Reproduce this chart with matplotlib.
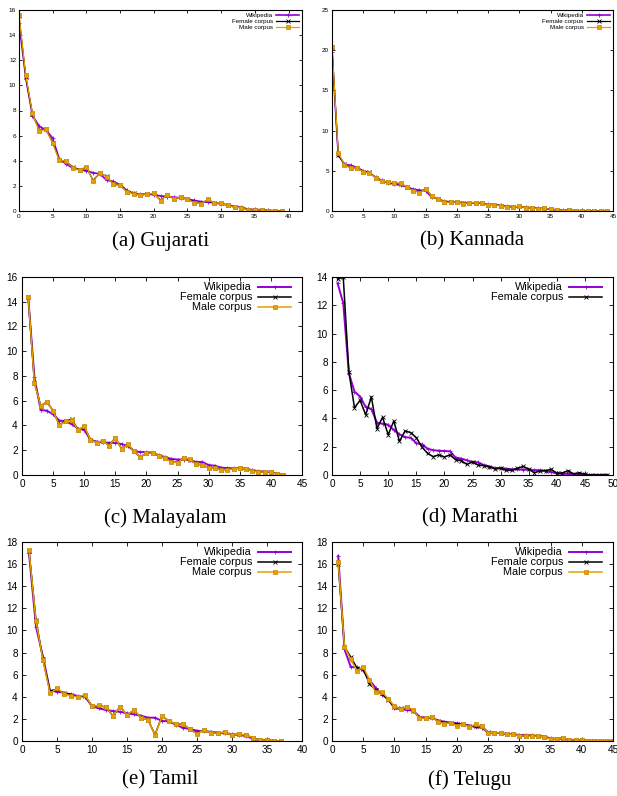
import matplotlib.pyplot as plt

# ---- data ----
guj_x = list(range(0, 40))
guj_wiki = [15.0, 10.6, 7.6, 6.75, 6.45, 5.8, 4.1, 3.75, 3.4, 3.3, 3.2, 3.05, 2.95, 2.45, 2.35, 2.1,
            1.65, 1.4, 1.35, 1.35, 1.3, 1.2, 1.15, 1.1, 1.05, 0.95, 0.85, 0.75, 0.7, 0.65, 0.55, 0.5,
            0.35, 0.3, 0.15, 0.12, 0.1, 0.05, 0.03, 0.0]
guj_female = [15.5, 10.7, 7.7, 6.45, 6.5, 5.45, 4.05, 3.95, 3.5, 3.3, 3.45, 2.45, 3.0, 2.75, 2.15, 2.05,
              1.55, 1.4, 1.25, 1.35, 1.4, 0.85, 1.3, 0.95, 1.1, 0.95, 0.68, 0.6, 0.9, 0.65, 0.6, 0.45,
              0.3, 0.27, 0.08, 0.1, 0.08, 0.03, 0.03, 0.0]
guj_male = [15.6, 10.8, 7.77, 6.37, 6.5, 5.38, 4.03, 3.98, 3.45, 3.26, 3.53, 2.39, 3.0, 2.73, 2.12, 2.04,
            1.54, 1.38, 1.25, 1.35, 1.41, 0.82, 1.3, 0.95, 1.11, 0.93, 0.66, 0.58, 0.93, 0.64, 0.61, 0.45,
            0.29, 0.27, 0.08, 0.1, 0.08, 0.03, 0.03, 0.0]

kan_x = list(range(0, 45))
kan_wiki = [19.8, 7.0, 5.8, 5.7, 5.4, 5.0, 4.7, 4.2, 3.8, 3.5, 3.35, 3.2, 3.0, 2.7, 2.6, 2.5, 1.7, 1.5,
            1.2, 1.15, 1.1, 1.05, 1.0, 1.0, 0.95, 0.85, 0.8, 0.7, 0.6, 0.55, 0.5, 0.45, 0.4, 0.35, 0.3,
            0.2, 0.15, 0.1, 0.08, 0.05, 0.03, 0.0, 0.0, 0.0, 0.0]
kan_female = [20.4, 7.0, 5.8, 5.35, 5.4, 4.9, 4.8, 4.15, 3.7, 3.6, 3.45, 3.4, 3.0, 2.55, 2.35, 2.75,
              1.85, 1.45, 1.1, 1.1, 1.15, 0.95, 1.05, 1.05, 0.95, 0.8, 0.8, 0.66, 0.5, 0.5, 0.58, 0.41,
              0.37, 0.29, 0.33, 0.2, 0.12, 0.04, 0.12, 0.04, 0.04, 0.0, 0.0, 0.0, 0.0]
kan_male = [20.44, 7.26, 5.76, 5.3, 5.39, 4.85, 4.73, 4.15, 3.69, 3.6, 3.52, 3.44, 2.98, 2.53, 2.28, 2.78,
            1.82, 1.45, 1.08, 1.08, 1.16, 0.91, 1.04, 1.04, 0.95, 0.79, 0.79, 0.66, 0.5, 0.5, 0.58, 0.41,
            0.37, 0.29, 0.33, 0.2, 0.12, 0.04, 0.12, 0.04, 0.04, 0.0, 0.0, 0.0, 0.0]

mal_x = list(range(1, 43))
mal_wiki = [14.3, 7.9, 5.25, 5.2, 4.9, 4.4, 4.35, 4.1, 3.75, 3.65, 2.85, 2.7, 2.65, 2.6, 2.6, 2.5, 2.35,
            1.95, 1.85, 1.85, 1.8, 1.6, 1.45, 1.3, 1.25, 1.25, 1.2, 1.05, 1.05, 0.8, 0.75, 0.6, 0.55,
            0.55, 0.55, 0.5, 0.4, 0.3, 0.28, 0.25, 0.1, 0.0]
mal_female = [14.4, 7.45, 5.6, 5.9, 5.2, 4.05, 4.35, 4.5, 3.65, 3.9, 2.85, 2.62, 2.75, 2.4, 3.0, 2.12,
              2.45, 1.92, 1.45, 1.77, 1.77, 1.56, 1.34, 1.1, 1.0, 1.4, 1.25, 0.88, 0.82, 0.56, 0.56, 0.42,
              0.45, 0.51, 0.56, 0.48, 0.35, 0.24, 0.24, 0.27, 0.05, 0.0]
mal_male = [14.39, 7.42, 5.59, 5.92, 5.19, 4.0, 4.33, 4.41, 3.63, 3.93, 2.85, 2.61, 2.77, 2.37, 3.01, 2.1,
            2.47, 1.91, 1.43, 1.77, 1.77, 1.56, 1.34, 1.08, 0.99, 1.4, 1.26, 0.86, 0.81, 0.56, 0.56, 0.4,
            0.43, 0.51, 0.56, 0.48, 0.35, 0.24, 0.24, 0.27, 0.05, 0.0]

mar_x = list(range(1, 50))
mar_wiki = [13.56, 12.15, 7.2, 5.9, 5.54, 4.81, 4.67, 3.7, 3.63, 3.56, 3.18, 2.88, 2.67, 2.64, 2.24, 2.17,
            1.86, 1.75, 1.72, 1.7, 1.67, 1.23, 1.16, 1.04, 0.92, 0.9, 0.7, 0.6, 0.5, 0.5, 0.45, 0.4, 0.4,
            0.38, 0.38, 0.35, 0.33, 0.3, 0.2, 0.12, 0.1, 0.08, 0.05, 0.04, 0.02, 0.0, 0.0, 0.0, 0.0]
mar_female = [13.84, 14.0, 7.31, 4.76, 5.28, 4.25, 5.52, 3.28, 4.08, 2.85, 3.82, 2.38, 3.11, 3.0, 2.64,
              1.98, 1.53, 1.3, 1.42, 1.27, 1.42, 1.08, 1.01, 0.75, 0.92, 0.7, 0.66, 0.59, 0.42, 0.47,
              0.33, 0.33, 0.47, 0.61, 0.42, 0.16, 0.28, 0.31, 0.4, 0.12, 0.14, 0.31, 0.07, 0.16, 0.05,
              0.0, 0.0, 0.0, 0.0]

tam_x = list(range(1, 38))
tam_wiki = [16.96, 10.33, 7.62, 4.55, 4.46, 4.37, 4.22, 4.07, 4.0, 3.16, 2.95, 2.8, 2.71, 2.65, 2.5, 2.41,
            2.29, 2.11, 2.11, 1.81, 1.78, 1.45, 1.2, 1.08, 0.93, 0.87, 0.84, 0.75, 0.69, 0.63, 0.54, 0.45,
            0.2, 0.06, 0.03, 0.0, 0.0]
tam_female = [17.2, 10.9, 7.35, 4.5, 4.7, 4.3, 4.2, 4.0, 4.1, 3.13, 3.2, 3.07, 2.26, 3.1, 2.35, 2.78,
              2.11, 1.93, 0.56, 2.26, 1.78, 1.54, 1.54, 1.05, 0.68, 1.02, 0.75, 0.69, 0.81, 0.51, 0.63,
              0.51, 0.3, 0.06, 0.09, 0.03, 0.0]
tam_male = [17.26, 10.84, 7.32, 4.31, 4.76, 4.28, 4.07, 4.01, 4.16, 3.13, 3.22, 3.07, 2.26, 3.1, 2.35, 2.8,
            2.11, 1.93, 0.54, 2.26, 1.78, 1.54, 1.54, 1.05, 0.66, 1.02, 0.75, 0.69, 0.81, 0.51, 0.63,
            0.51, 0.3, 0.06, 0.09, 0.03, 0.0]

tel_x = list(range(1, 46))
tel_wiki = [16.75, 8.3, 6.7, 6.65, 6.4, 5.5, 4.8, 4.2, 3.8, 2.95, 2.9, 2.8, 2.75, 2.2, 2.1, 2.1, 1.85,
            1.75, 1.65, 1.6, 1.5, 1.4, 1.25, 1.2, 0.75, 0.75, 0.7, 0.65, 0.6, 0.55, 0.55, 0.5, 0.45,
            0.4, 0.25, 0.2, 0.2, 0.1, 0.1, 0.05, 0.03, 0.03, 0.03, 0.02, 0.02]
tel_female = [16.0, 8.5, 7.6, 6.6, 6.5, 5.2, 4.6, 4.3, 3.7, 3.1, 2.95, 3.05, 2.75, 2.1, 2.05, 2.15, 1.8,
              1.6, 1.65, 1.5, 1.5, 1.35, 1.4, 1.35, 0.78, 0.75, 0.72, 0.63, 0.6, 0.48, 0.45, 0.42,
              0.45, 0.39, 0.18, 0.21, 0.28, 0.09, 0.09, 0.06, 0.03, 0.03, 0.03, 0.0, 0.0]
tel_male = [16.2, 8.52, 7.38, 6.36, 6.72, 5.51, 4.4, 4.46, 3.8, 3.16, 2.89, 3.1, 2.8, 2.05, 2.05, 2.2,
            1.75, 1.54, 1.66, 1.39, 1.54, 1.27, 1.51, 1.33, 0.75, 0.75, 0.72, 0.63, 0.6, 0.48, 0.45,
            0.42, 0.45, 0.39, 0.18, 0.21, 0.3, 0.09, 0.09, 0.06, 0.03, 0.03, 0.03, 0.0, 0.0]

captions = ["(a) Gujarati", "(b) Kannada", "(c) Malayalam", "(d) Marathi", "(e) Tamil", "(f) Telugu"]

PURPLE = "#9400d3"
ORANGE = "#e69f00"

fig = plt.figure(figsize=(6.17, 7.96), dpi=100)
W, H = 617.0, 796.0


def make_axes(l, r, t, b):
    return fig.add_axes([l / W, 1 - b / H, (r - l) / W, (b - t) / H])


def draw(ax, x, wiki, female, male, xmax, xstep, ymax, ystep, small):
    ms = 2.2 if small else 3.0
    lw = 0.9 if small else 1.1
    ax.plot(x, wiki, color=PURPLE, lw=lw + 0.3, marker="+", ms=ms + 0.5, mew=0.6, label="Wikipedia")
    ax.plot(x, female, color="black", lw=lw, marker="x", ms=ms, mew=0.6, label="Female corpus")
    if male is not None:
        ax.plot(x, male, color=ORANGE, lw=lw, marker="s", ms=ms, mew=0.5,
                mec="#c88a00", label="Male corpus")
    ax.set_xlim(0, xmax)
    ax.set_ylim(0, ymax)
    ax.set_xticks(range(0, xmax + 1, xstep))
    ax.set_yticks(range(0, ymax + 1, ystep))
    fs = 4.6 if small else 7.2
    ax.tick_params(direction="in", top=True, right=True, length=2.5 if small else 3,
                   width=0.6, labelsize=fs, pad=2 if small else 3)
    for s in ax.spines.values():
        s.set_linewidth(0.8)
    for lab in ax.get_xticklabels() + ax.get_yticklabels():
        lab.set_family("Liberation Sans")
    ax.legend(loc="upper right", frameon=False, markerfirst=False,
              bbox_to_anchor=(1.0, 1.0) if small else (0.98, 1.0),
              prop={"family": "Liberation Sans", "size": 4.5 if small else 7.8},
              handlelength=3.6 if small else 3.0, handletextpad=0.6,
              labelspacing=0.05 if small else 0.0,
              borderaxespad=0.3, borderpad=0.2)


ax = make_axes(19, 302, 10, 211)
draw(ax, guj_x, guj_wiki, guj_female, guj_male, 42, 5, 16, 2, True)
ax = make_axes(332, 613, 10, 211)
draw(ax, kan_x, kan_wiki, kan_female, kan_male, 45, 5, 25, 5, True)
ax = make_axes(22, 302, 277, 475)
draw(ax, mal_x, mal_wiki, mal_female, mal_male, 45, 5, 16, 2, False)
ax = make_axes(332, 613, 277, 475)
draw(ax, mar_x, mar_wiki, mar_female, None, 50, 5, 14, 2, False)
ax = make_axes(22, 302, 542, 741)
draw(ax, tam_x, tam_wiki, tam_female, tam_male, 40, 5, 18, 2, False)
ax = make_axes(332, 613, 542, 741)
draw(ax, tel_x, tel_wiki, tel_female, tel_male, 45, 5, 18, 2, False)

cap_pos = [(161, 241), (472, 241), (165, 518), (470, 518), (160, 780), (470, 780)]
for text, (cx, cy) in zip(captions, cap_pos):
    fig.text(cx / W, 1 - cy / H, text, ha="center", va="center",
             family="Liberation Serif", size=15)

fig.savefig("out.png", dpi=100)
